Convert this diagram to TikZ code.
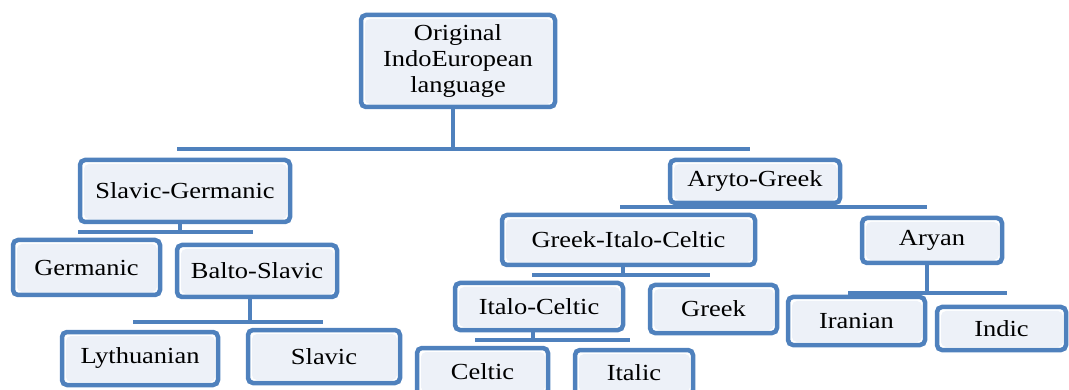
\documentclass[tikz,border=0pt]{standalone}
\usepackage{fontspec}
\setmainfont{Liberation Serif}[FakeStretch=1.15]
\definecolor{boxblue}{HTML}{4F81BD}
\definecolor{boxfill}{HTML}{EDF1F8}
\begin{document}
\begin{tikzpicture}[x=1pt,y=-1pt,
  box/.style={draw=boxblue, line width=4.5pt, rounded corners=5pt, fill=white,
    inner sep=0pt, align=center, font=\fontsize{23}{26}\selectfont,
    path picture={\fill[boxfill] ([shift={(4pt,-4pt)}]path picture bounding box.north west) rectangle ([shift={(-3pt,3pt)}]path picture bounding box.south east);}},
  conn/.style={draw=boxblue, line width=4pt}]
\useasboundingbox (0,0) rectangle (1069,390);
\clip (0,0) rectangle (1069,390);
% nodes
\node[box, minimum width=194pt, minimum height=92pt] (root) at (458,61) {Original\\IndoEuropean\\language};
\node[box, minimum width=210pt, minimum height=62pt] (sg) at (185,191) {Slavic-Germanic};
\node[box, minimum width=147pt, minimum height=55pt] (germ) at (86.5,267.5) {Germanic};
\node[box, minimum width=160pt, minimum height=52pt] (bs) at (257,271) {Balto-Slavic};
\node[box, minimum width=156pt, minimum height=53pt] (lyth) at (140,358.5) {Lythuanian};
\node[box, minimum width=152pt, minimum height=53pt] (slav) at (324,356.5) {Slavic};
\node[box, minimum width=170pt, minimum height=43pt] (ag) at (755,181.5) {Aryto-Greek};
\node[box, minimum width=253pt, minimum height=50pt] (gic) at (628.5,240) {Greek-Italo-Celtic};
\node[box, minimum width=168pt, minimum height=47pt] (ic) at (539,306.5) {Italo-Celtic};
\node[box, minimum width=127pt, minimum height=48pt] (greek) at (713.5,309) {Greek};
\node[box, minimum width=131pt, minimum height=47pt] (celt) at (482.5,371.5) {Celtic};
\node[box, minimum width=118pt, minimum height=45pt] (ital) at (634,372.5) {Italic};
\node[box, minimum width=140pt, minimum height=45pt] (aryan) at (932,240.5) {Aryan};
\node[box, minimum width=137pt, minimum height=48pt] (iran) at (856.5,321) {Iranian};
\node[box, minimum width=129pt, minimum height=43pt] (indic) at (1001.5,328.5) {Indic};
% bar end points
\coordinate (rootL) at (177,149); \coordinate (rootR) at (750,149);
\coordinate (sgL) at (78,232); \coordinate (sgR) at (253,232);
\coordinate (bsL) at (133,322); \coordinate (bsR) at (323,322);
\coordinate (agL) at (620,207); \coordinate (agR) at (927,207);
\coordinate (gicL) at (532,275); \coordinate (gicR) at (710,275);
\coordinate (icL) at (475,340); \coordinate (icR) at (630,340);
\coordinate (arL) at (848,293); \coordinate (arR) at (1007,293);
% connectors
\draw[conn] ([xshift=-5pt]root.south) -- ([xshift=-5pt]root.south |- rootL);
\draw[conn] (rootL) -- (rootR);
\draw[conn] ([xshift=-5pt]sg.south) -- ([xshift=-5pt]sg.south |- sgL);
\draw[conn] (sgL) -- (sgR);
\draw[conn] ([xshift=-7pt]bs.south) -- ([xshift=-7pt]bs.south |- bsL);
\draw[conn] (bsL) -- (bsR);
\draw[conn] (ag.south) -- (ag.south |- agL);
\draw[conn] (agL) -- (agR);
\draw[conn] ([xshift=-6pt]gic.south) -- ([xshift=-6pt]gic.south |- gicL);
\draw[conn] (gicL) -- (gicR);
\draw[conn] ([xshift=-6pt]ic.south) -- ([xshift=-6pt]ic.south |- icL);
\draw[conn] (icL) -- (icR);
\draw[conn] ([xshift=-5pt]aryan.south) -- ([xshift=-5pt]aryan.south |- arL);
\draw[conn] (arL) -- (arR);
\end{tikzpicture}
\end{document}
